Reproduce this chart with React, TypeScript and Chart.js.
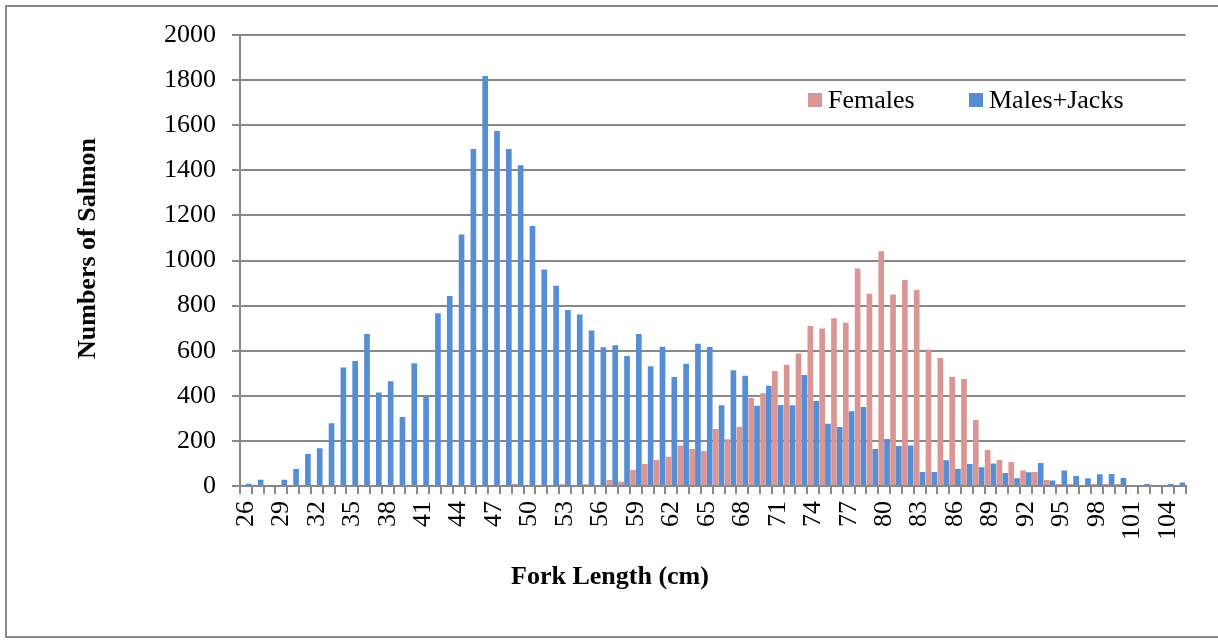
import React, { useEffect, useRef } from "react";
import { Chart, registerables } from "chart.js";

Chart.register(...registerables);

const forkLengths: number[] = [];
for (let l = 26; l <= 105; l++) forkLengths.push(l);
const categories = forkLengths.map(String);

const females = [
  0, 0, 0, 0, 0, 0, 0, 0, 0, 0, // 26-35
  0, 0, 0, 0, 0, 0, 0, 0, 0, 0, // 36-45
  0, 0, 0, 10, 0, 0, 0, 8, 0, 8, // 46-55
  0, 27, 19, 71, 98, 115, 130, 180, 164, 155, // 56-65
  253, 207, 263, 390, 411, 510, 538, 588, 710, 699, // 66-75
  744, 724, 964, 852, 1041, 849, 914, 869, 605, 568, // 76-85
  485, 474, 293, 160, 115, 106, 69, 62, 27, 9, // 86-95
  9, 0, 9, 9, 9, 0, 0, 0, 0, 0, // 96-105
];

const malesJacks = [
  10, 28, 0, 28, 75, 142, 167, 278, 526, 554, // 26-35
  674, 415, 465, 306, 544, 396, 766, 843, 1115, 1495, // 36-45
  1818, 1574, 1495, 1422, 1153, 960, 888, 781, 760, 690, // 46-55
  615, 624, 577, 674, 531, 618, 483, 542, 631, 616, // 56-65
  358, 513, 489, 356, 445, 359, 358, 492, 377, 276, // 66-75
  262, 331, 350, 164, 208, 177, 180, 62, 62, 114, // 76-85
  75, 98, 83, 100, 58, 34, 61, 102, 24, 69, // 86-95
  44, 34, 52, 53, 35, 0, 9, 0, 9, 16, // 96-105
];

const seriesNames = ["Females", "Males+Jacks"];
const seriesColors = ["#D99694", "#558ED5"];
const yTicks = { min: 0, max: 2000, step: 200 };
const xTitle = "Fork Length (cm)";
const yTitle = "Numbers of Salmon";

const FONT = "'Liberation Serif', 'Times New Roman', serif";

const legendPlugin = {
  id: "insideLegend",
  afterDraw(chart: any) {
    const { ctx, chartArea } = chart;
    const xs = [chartArea.left + 568, chartArea.left + 729];
    const y = chartArea.top + 65;
    ctx.save();
    ctx.font = `26px ${FONT}`;
    ctx.textBaseline = "middle";
    ctx.textAlign = "left";
    chart.data.datasets.forEach((ds: any, i: number) => {
      ctx.fillStyle = ds.backgroundColor;
      ctx.fillRect(xs[i], y - 7, 14, 14);
      ctx.fillStyle = "#000";
      ctx.fillText(ds.label, xs[i] + 20, y + 1);
    });
    ctx.restore();
  },
};

const axisTitlePlugin = {
  id: "axisTitles",
  afterDraw(chart: any) {
    const { ctx, chartArea, width } = chart;
    ctx.save();
    ctx.font = `bold 26px ${FONT}`;
    ctx.fillStyle = "#000";
    ctx.textAlign = "center";
    ctx.textBaseline = "middle";
    ctx.fillText(xTitle, width / 2 + 1, chartArea.bottom + 91);
    ctx.translate(chartArea.left - 152, (chartArea.top + chartArea.bottom) / 2 - 12);
    ctx.rotate(-Math.PI / 2);
    ctx.fillText(yTitle, 0, 0);
    ctx.restore();
  },
};

export default function App() {
  const canvasRef = useRef<HTMLCanvasElement | null>(null);

  useEffect(() => {
    const canvas = canvasRef.current;
    if (!canvas) return;
    const chart = new Chart(canvas, {
      type: "bar",
      data: {
        labels: categories,
        datasets: [
          {
            label: seriesNames[0],
            data: females,
            backgroundColor: seriesColors[0],
            categoryPercentage: 0.98,
            barPercentage: 0.98,
          },
          {
            label: seriesNames[1],
            data: malesJacks,
            backgroundColor: seriesColors[1],
            categoryPercentage: 0.98,
            barPercentage: 0.98,
          },
        ],
      },
      options: {
        responsive: false,
        animation: false,
        layout: { padding: { left: 76, right: 30, top: 35, bottom: 54 } },
        plugins: {
          legend: { display: false },
          tooltip: { enabled: false },
        },
        scales: {
          x: {
            grid: {
              drawOnChartArea: false,
              drawTicks: true,
              tickLength: 8,
              color: "#888888",
              lineWidth: 2,
              offset: true,
            },
            border: { color: "#888888", width: 2 },
            ticks: {
              autoSkip: false,
              maxRotation: 90,
              minRotation: 90,
              padding: 7,
              color: "#000",
              font: { family: FONT, size: 26 },
              callback: (_v: any, i: number) => (i % 3 === 0 ? categories[i] : ""),
            },
            afterFit: (s: any) => {
              s.height = 103;
            },
          },
          y: {
            min: yTicks.min,
            max: yTicks.max,
            ticks: {
              stepSize: yTicks.step,
              padding: 16,
              color: "#000",
              font: { family: FONT, size: 26 },
              callback: (v: any) => String(v),
            },
            grid: { color: "#888888", lineWidth: 2, tickLength: 8 },
            border: { color: "#888888", width: 2 },
            afterFit: (s: any) => {
              s.width = 164;
            },
          },
        },
      },
      plugins: [legendPlugin, axisTitlePlugin],
    } as any);
    return () => chart.destroy();
  }, []);

  return (
    <div
      style={{
        position: "fixed",
        left: 0,
        top: 0,
        width: 1218,
        height: 643,
        overflow: "hidden",
        background: "#fff",
      }}
    >
      <div
        style={{
          position: "absolute",
          left: 5,
          top: 5,
          width: 1230,
          height: 633,
          border: "2px solid #888888",
          boxSizing: "border-box",
        }}
      />
      <canvas
        ref={canvasRef}
        width={1218}
        height={643}
        style={{ position: "absolute", left: 0, top: 0, width: 1218, height: 643 }}
      />
    </div>
  );
}
